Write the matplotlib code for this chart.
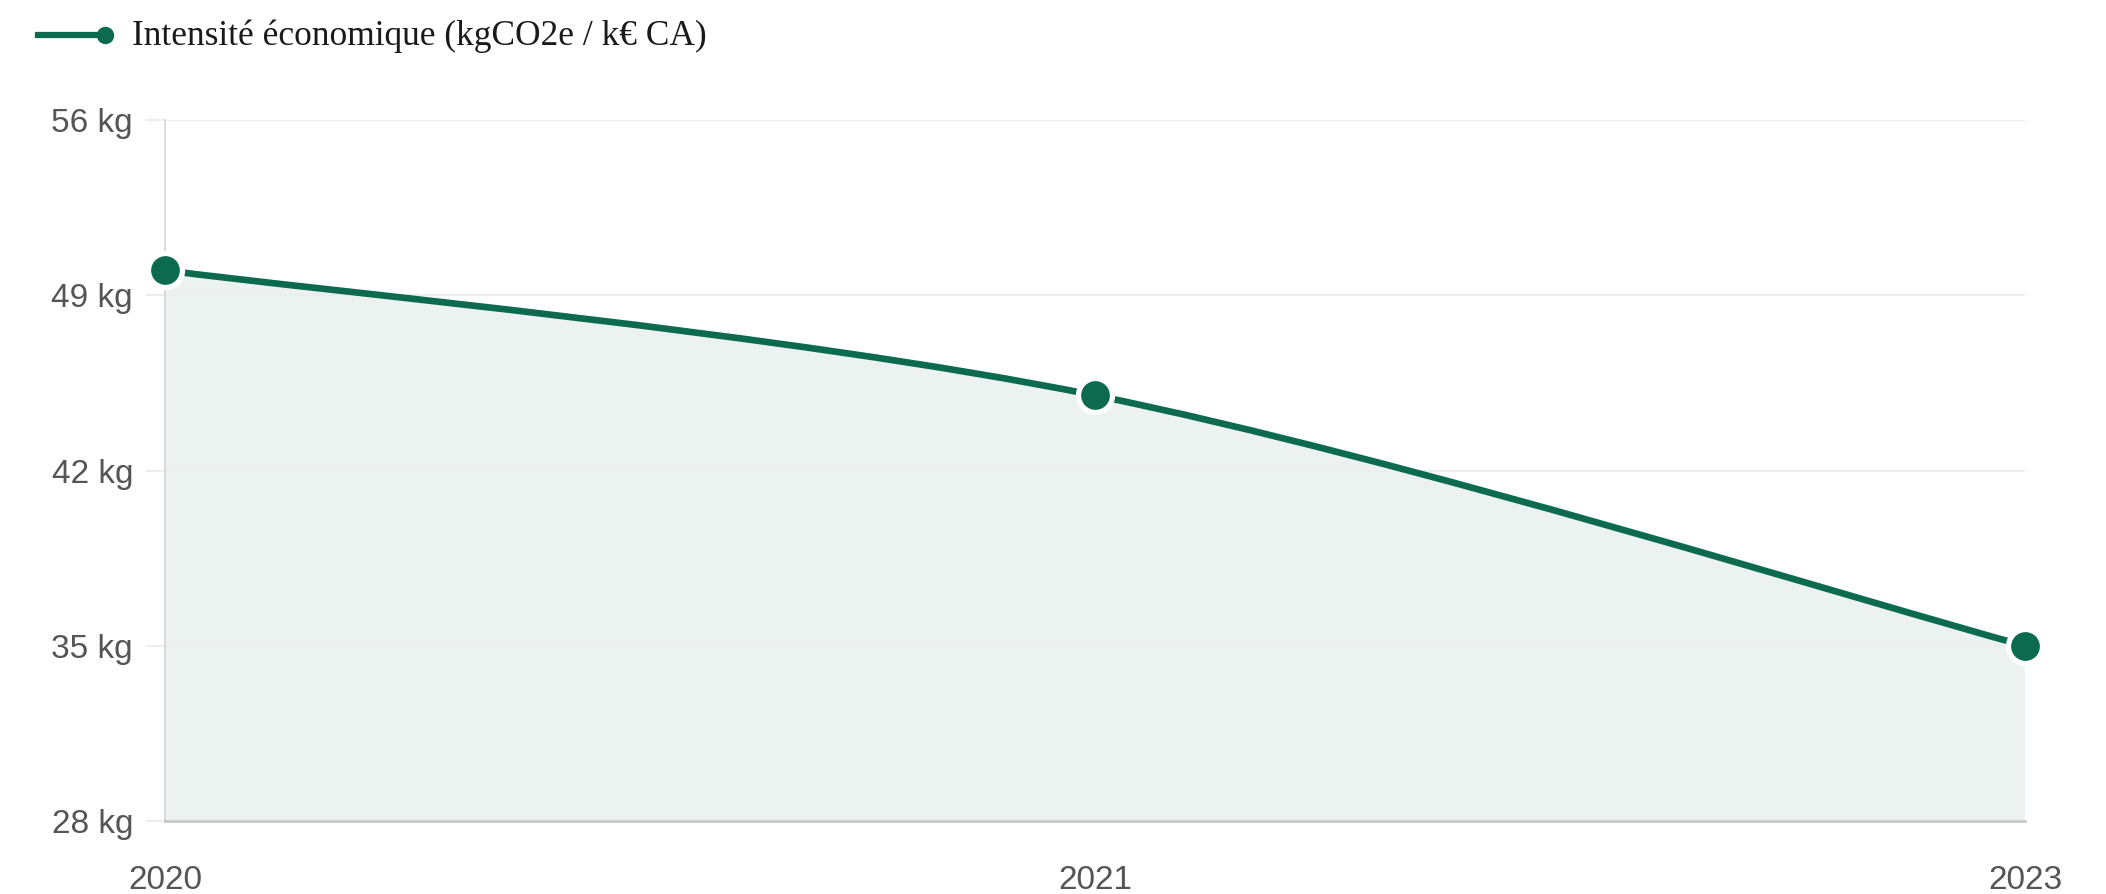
"""
Intensité économique line chart (kgCO2e / k€ CA), 2020-2023.
"""

import matplotlib
matplotlib.use("Agg")
import matplotlib.pyplot as plt
from matplotlib.path import Path
from matplotlib.patches import PathPatch
from matplotlib.lines import Line2D

# ── Data ──────────────────────────────────────────────────────────────────────
years = ["2020", "2021", "2023"]
intensity = [50, 45, 35]
y_ticks = [28, 35, 42, 49, 56]
series_label = "Intensité économique (kgCO2e / k€ CA)"

GREEN = "#0c6a4e"
FILL = "#ecf2f0"
GRID = "#ededed"
AXIS = "#d4d4d4"
TEXT = "#555555"

W, H = 2106, 894
x = list(range(len(years)))

# ── Smooth path (cardinal spline, tension 0) through the data points ──────────
pts = list(zip(x, intensity))
ext = [pts[0]] + pts + [pts[-1]]
verts = [pts[0]]
codes = [Path.MOVETO]
for i in range(len(pts) - 1):
    p0, p1, p2, p3 = ext[i], ext[i + 1], ext[i + 2], ext[i + 3]
    c1 = (p1[0] + (p2[0] - p0[0]) / 6, p1[1] + (p2[1] - p0[1]) / 6)
    c2 = (p2[0] - (p3[0] - p1[0]) / 6, p2[1] - (p3[1] - p1[1]) / 6)
    verts += [c1, c2, p2]
    codes += [Path.CURVE4] * 3

fill_verts = verts + [(x[-1], y_ticks[0]), (x[0], y_ticks[0]), pts[0]]
fill_codes = codes + [Path.LINETO, Path.LINETO, Path.CLOSEPOLY]

# ── Figure ────────────────────────────────────────────────────────────────────
fig = plt.figure(figsize=(W / 100, H / 100), dpi=100)
ax = fig.add_axes([165 / W, 1 - 821 / H, 1860 / W, 701 / H])

ax.add_patch(PathPatch(Path(fill_verts, fill_codes), fc=FILL, ec="none", zorder=1))
ax.add_patch(PathPatch(Path(verts, codes), fc="none", ec=GREEN, lw=4.8,
                       capstyle="round", zorder=3))
ax.plot(x, intensity, ls="none", marker="o", ms=24.5, mfc=GREEN, mec="white",
        mew=3.8, clip_on=False, zorder=4)

ax.set_xlim(x[0], x[-1])
ax.set_ylim(y_ticks[0], y_ticks[-1])
ax.set_yticks(y_ticks)
ax.set_yticklabels([f"{v} kg" for v in y_ticks])
ax.set_xticks(x)
ax.set_xticklabels(years)

ax.grid(axis="y", color=GRID, lw=1.5, zorder=0)
ax.tick_params(axis="y", length=14, width=1.5, color=GRID, pad=9,
               labelsize=24, labelcolor=TEXT)
ax.tick_params(axis="x", length=0, pad=32, labelsize=24, labelcolor=TEXT)
for lab in ax.get_xticklabels() + ax.get_yticklabels():
    lab.set_family("Liberation Sans")

for side in ["top", "right"]:
    ax.spines[side].set_visible(False)
ax.spines["left"].set_color(AXIS)
ax.spines["left"].set_linewidth(1.2)
ax.spines["bottom"].set_color("#c8c8c8")
ax.spines["bottom"].set_linewidth(2)

# ── Legend (top left, drawn by hand) ──────────────────────────────────────────
ly = 1 - 35 / H
fig.add_artist(Line2D([38 / W, 96 / W], [ly, ly], color=GREEN, lw=4.5))
fig.add_artist(Line2D([105 / W], [ly], marker="o", ms=11.5, color=GREEN, ls="none"))
fig.text(132 / W, 1 - 36 / H, series_label, family="Liberation Serif",
         fontsize=25.5, color="#1a1a1a", ha="left", va="center")

fig.savefig("out.png", dpi=100)
